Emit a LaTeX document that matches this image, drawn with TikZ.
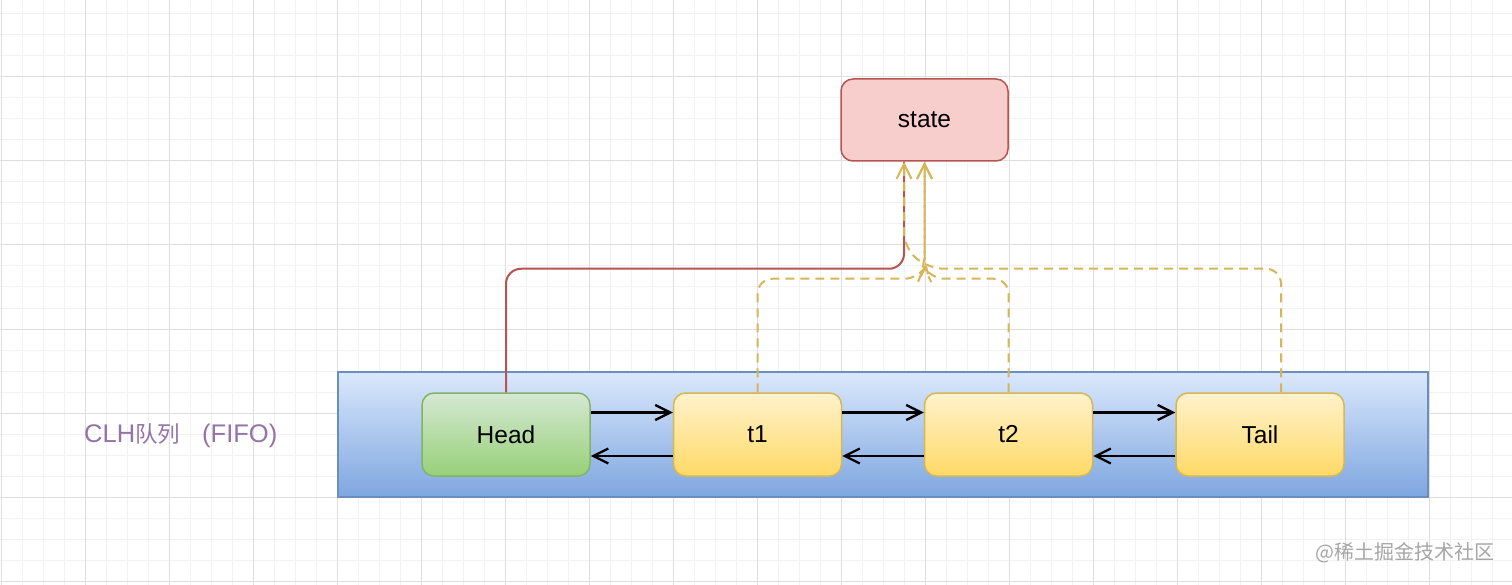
\documentclass[tikz,border=0pt]{standalone}
\usepackage{fontspec}
\setmainfont{Liberation Sans}
\newfontfamily\cjk{Noto Sans CJK SC}
\usetikzlibrary{arrows.meta,calc}
\definecolor{stateFill}{HTML}{F8CECC}
\definecolor{stateDraw}{HTML}{B85450}
\definecolor{blueTop}{HTML}{DAE8FC}
\definecolor{blueBot}{HTML}{7EA6E0}
\definecolor{blueDraw}{HTML}{6C8EBF}
\definecolor{greenTop}{HTML}{D5E8D4}
\definecolor{greenBot}{HTML}{97D077}
\definecolor{greenDraw}{HTML}{82B366}
\definecolor{yelTop}{HTML}{FFF2CC}
\definecolor{yelBot}{HTML}{FFD966}
\definecolor{yelDraw}{HTML}{D6B656}
\definecolor{purpleTxt}{HTML}{9673A6}
\definecolor{gridMinor}{HTML}{F2F2F2}
\definecolor{gridMajor}{HTML}{DEDEDE}
\tikzset{
  nodebox/.style={rounded corners=12pt, line width=1.5pt, minimum width=168pt, minimum height=83pt,
    font=\fontsize{24.5}{29}\selectfont, text=black},
  headbox/.style={nodebox, draw=greenDraw, top color=greenTop, bottom color=greenBot},
  thrbox/.style={nodebox, draw=yelDraw, top color=yelTop, bottom color=yelBot},
  statebox/.style={nodebox, draw=stateDraw, fill=stateFill, minimum width=167pt, minimum height=82pt},
  containerbox/.style={draw=blueDraw, line width=1.5pt, top color=blueTop, bottom color=blueBot,
    minimum width=1090pt, minimum height=125pt},
  linkarr/.style={line width=2.3pt, black, -{Straight Barb[length=15pt,width=15pt,line width=2.3pt]}},
  redconn/.style={line width=2pt, draw=stateDraw, rounded corners=15pt},
  yelconn/.style={line width=2pt, draw=yelDraw, dash pattern=on 9pt off 6pt, rounded corners=15pt,
    -{Straight Barb[length=15pt,width=15pt,line width=2pt]}}
}
\begin{document}
\begin{tikzpicture}[x=1pt,y=-1pt]
\useasboundingbox (0,0) rectangle (1512,585);
\fill[white] (0,0) rectangle (1512,585);
% grid
\foreach \gx in {1,22,...,1512} \draw[gridMinor, line width=1pt] (\gx,0) -- (\gx,585);
\foreach \gy in {14,35,...,585} \draw[gridMinor, line width=1pt] (0,\gy) -- (1512,\gy);
\foreach \gx in {1,85,...,1512} \draw[gridMajor, line width=1pt] (\gx,0) -- (\gx,585);
\foreach \gy in {77,161,...,585} \draw[gridMajor, line width=1pt] (0,\gy) -- (1512,\gy);

% container
\node[containerbox] (clh) at (883,434.5) {};
% nodes
\node[statebox] (state) at (924.5,120) {state};
\node[headbox] (head) at (506,434.5) {Head};
\node[thrbox] (t1) at (757.5,434.5) {t1};
\node[thrbox] (t2) at (1008.5,434.5) {t2};
\node[thrbox] (tail) at (1260,434.5) {Tail};

% links
\draw[linkarr] ([yshift=22pt]head.east) -- ([yshift=22pt]t1.west);
\draw[linkarr] ([yshift=-21.5pt]t1.west) -- ([yshift=-21.5pt]head.east);
\draw[linkarr] ([yshift=22pt]t1.east) -- ([yshift=22pt]t2.west);
\draw[linkarr] ([yshift=-21.5pt]t2.west) -- ([yshift=-21.5pt]t1.east);
\draw[linkarr] ([yshift=22pt]t2.east) -- ([yshift=22pt]tail.west);
\draw[linkarr] ([yshift=-21.5pt]tail.west) -- ([yshift=-21.5pt]t2.east);

% connectors to state
\draw[redconn] (head.north) |- ($(state.south)+(-20.5,107)$) -- ($(state.south)+(-20.5,0)$);
\draw[yelconn] ([xshift=21pt]tail.north) |- ($(state.south)+(4,107)$) -- ($(state.south)+(-20.5,86)$) -- ($(state.south)+(-20.5,0)$);
\draw[yelconn] (t1.north) |- ($(state.south)+(-5,117)$) -- ($(state.south)+(0,107)$) -- (state.south);
\draw[yelconn] (t2.north) |- ($(state.south)+(5,117)$) -- ($(state.south)+(0,107)$) -- (state.south);

% labels
\node[anchor=west, text=purpleTxt, font=\fontsize{25.5}{30}\selectfont, inner sep=0pt] (clhlabel) at (84,436)
  {CLH{\cjk\fontsize{22.5}{27}\selectfont 队列}\hspace{22pt}(FIFO)};
\node[anchor=east, text=black!35, font=\cjk\fontsize{20}{24}\selectfont, inner sep=0pt] (wm) at (1495,553)
  {@稀土掘金技术社区};
\end{tikzpicture}
\end{document}
